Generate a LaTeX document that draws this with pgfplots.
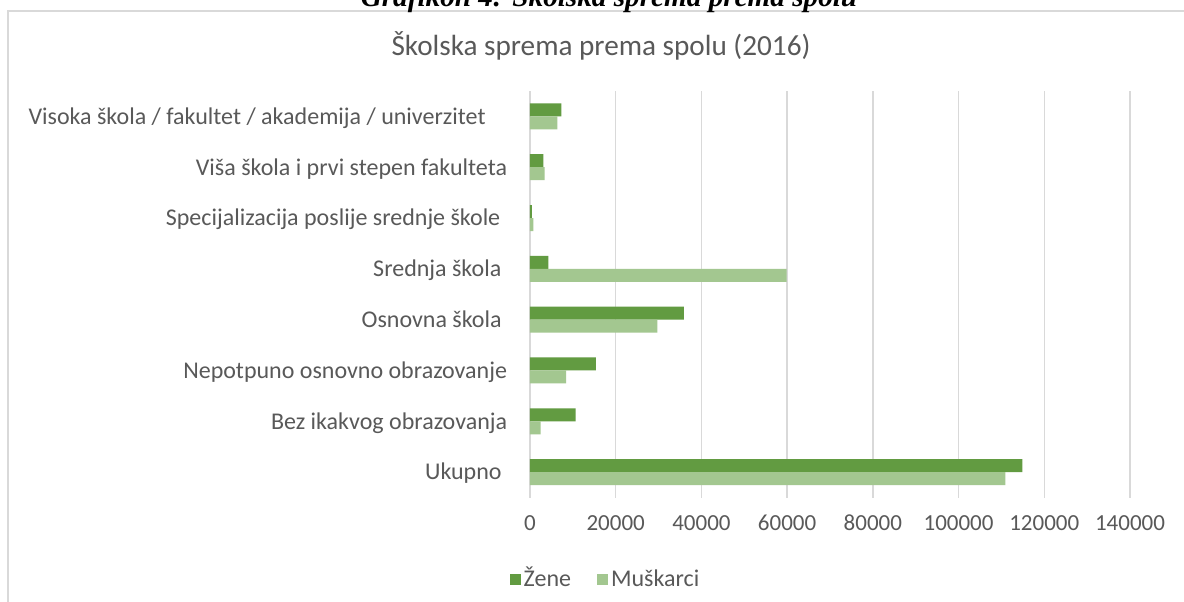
\documentclass[border=0pt]{standalone}
\usepackage{pgfplots}
\pgfplotsset{compat=1.18}
\usepackage{fontspec}
\setmainfont{Carlito}
\newfontfamily\capfont{Liberation Serif}
\definecolor{zene}{HTML}{629B41}
\definecolor{musk}{HTML}{A3C790}
\definecolor{txt}{HTML}{595959}
\definecolor{grd}{HTML}{D9D9D9}
\begin{document}
\begin{tikzpicture}
\fill[white] (0,0) rectangle (592pt,300.5pt);
\draw[grd, line width=1pt] (600pt,295pt) -- (4pt,295pt) -- (4pt,-10pt);
\node[anchor=base, font=\capfont\bfseries\itshape\fontsize{14.6}{16}\selectfont] at (304.5pt,297pt) {Grafikon 4: Školska sprema prema spolu};
\node[anchor=base, text=txt, font=\fontsize{14.6}{16}\selectfont] at (300.5pt,272.5pt) {Školska sprema prema spolu (2016)};
\begin{axis}[
  at={(265pt,51.75pt)}, anchor=south west,
  scale only axis, width=300pt, height=203.25pt,
  xmin=0, xmax=140000, ymin=-0.5, ymax=7.5,
  scaled x ticks=false,
  axis line style={draw=none},
  major tick length=0pt,
  xmajorgrids, major grid style={color=grd, line width=0.75pt},
  xtick={0,20000,40000,60000,80000,100000,120000,140000},
  xticklabels={0,20000,40000,60000,80000,100000,120000,140000},
  ytick={0,1,2,3,4,5,6,7},
  yticklabels={
    {Ukupno\hspace*{2.75pt}},
    {Bez ikakvog obrazovanja},
    {Nepotpuno osnovno obrazovanje},
    {Osnovna škola\hspace*{2.75pt}},
    {Srednja škola\hspace*{2.9pt}},
    {Specijalizacija poslije srednje škole\hspace*{3.4pt}},
    {Viša škola i prvi stepen fakulteta},
    {Visoka škola / fakultet / akademija / univerzitet\hspace*{10.75pt}}},
  tick label style={text=txt, inner sep=0pt},
  yticklabel style={anchor=base east, xshift=-11.25pt, yshift=-3.9pt, font=\fontsize{12}{14}\selectfont},
  xticklabel style={anchor=base, yshift=-16.5pt, font=\fontsize{11.5}{13}\selectfont},
  legend style={draw=none, fill=none, legend columns=2,
    at={(axis cs:17383,-2.104)}, anchor=center,
    font=\fontsize{12}{14}\selectfont, text=txt,
    /tikz/every even column/.append style={column sep=13pt},
    /tikz/every odd column/.append style={column sep=1.5pt},
    nodes={inner sep=0pt, fill=none, text height=9pt, text depth=2pt}},
]
\addplot[xbar, bar width=0.256, bar shift=0.128, fill=zene, draw=none,
  legend image code/.code={\fill[zene] (0pt,-2.75pt) rectangle (5.5pt,2.75pt);}]
  coordinates {(114900,0) (10650,1) (15400,2) (35900,3) (4300,4) (450,5) (3100,6) (7300,7)};
\addplot[xbar, bar width=0.256, bar shift=-0.128, fill=musk, draw=none,
  legend image code/.code={\fill[musk] (0pt,-2.75pt) rectangle (5.5pt,2.75pt);}]
  coordinates {(110900,0) (2500,1) (8450,2) (29700,3) (59900,4) (800,5) (3400,6) (6400,7)};
\legend{Žene, Muškarci}
\end{axis}
\pgfresetboundingbox
\useasboundingbox (0,0) rectangle (592pt,300.5pt);
\end{tikzpicture}
\end{document}
